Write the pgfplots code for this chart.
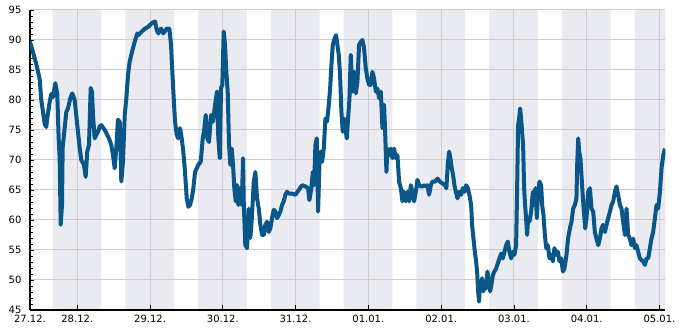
\documentclass[border=0pt]{standalone}
\usepackage{fontspec}
\setmainfont{DejaVu Sans}
\usepackage{pgfplots}
\pgfplotsset{compat=1.18}
\definecolor{dataline}{RGB}{10,86,136}
\definecolor{band}{RGB}{234,235,241}
\definecolor{gridc}{RGB}{204,204,208}
\begin{document}
\begin{tikzpicture}
\begin{axis}[
  set layers,
  scale only axis, width=635.3pt, height=300pt,
  xmin=0.35, xmax=9.08, ymin=45, ymax=95,
  axis x line*=bottom, axis y line*=left,
  axis line style={black, line width=1.2pt, -},
  ytick={45,50,...,95}, minor y tick num=4,
  xtick={0.35,1,2,3,4,5,6,7,8,9},
  xticklabels={27.12.,28.12.,29.12.,30.12.,31.12.,01.01.,02.01.,03.01.,04.01.,05.01.},
  tick align=inside,
  major tick length=4.5pt, minor tick length=3pt,
  tick style={black, line width=0.8pt},
  grid=major, major grid style={gridc, line width=1pt},
  ticklabel style={font=\fontsize{10}{12}\selectfont},
  /pgf/number format/assume math mode=true,
  yticklabel style={xshift=-5pt},
  xticklabel style={yshift=-1.2pt},
]
\addplot[on layer=axis background, fill=band, draw=none] coordinates {
(0.66,45)(0.66,95)(1.33,95)(1.33,45)
(1.66,45)(1.66,95)(2.33,95)(2.33,45)
(2.66,45)(2.66,95)(3.33,95)(3.33,45)
(3.66,45)(3.66,95)(4.33,95)(4.33,45)
(4.66,45)(4.66,95)(5.33,95)(5.33,45)
(5.66,45)(5.66,95)(6.33,95)(6.33,45)
(6.66,45)(6.66,95)(7.33,95)(7.33,45)
(7.66,45)(7.66,95)(8.33,95)(8.33,45)
(8.66,45)(8.66,95)(9.08,95)(9.08,45)
};
\addplot[dataline, line width=4pt, line join=round] table {
x y
0.350 89.7
0.391 88.0
0.436 86.0
0.483 83.5
0.505 80.0
0.529 78.0
0.552 76.0
0.574 75.5
0.588 77.0
0.621 79.7
0.643 81.0
0.666 80.5
0.698 82.8
0.725 81.0
0.744 73.6
0.758 70.3
0.772 59.2
0.790 62.5
0.799 72.0
0.817 74.2
0.849 78.0
0.872 78.6
0.904 80.3
0.931 81.1
0.964 80.0
1.000 75.8
1.033 72.0
1.055 70.0
1.092 69.2
1.115 67.2
1.137 71.4
1.161 72.5
1.184 82.0
1.202 81.4
1.216 77.5
1.239 73.6
1.261 74.2
1.285 74.7
1.308 75.6
1.330 75.8
1.377 75.0
1.412 74.2
1.445 73.3
1.467 72.5
1.491 70.8
1.514 68.6
1.536 72.0
1.559 76.7
1.583 76.4
1.605 66.4
1.628 69.7
1.652 77.5
1.674 80.3
1.697 84.2
1.720 86.4
1.752 88.0
1.789 89.7
1.825 91.1
1.839 90.8
1.885 91.4
1.931 91.9
1.976 92.2
2.023 92.8
2.068 93.1
2.091 91.7
2.113 91.1
2.151 91.9
2.182 91.1
2.229 91.9
2.265 91.9
2.288 89.2
2.306 84.7
2.325 80.3
2.343 76.4
2.366 74.2
2.388 73.6
2.412 75.3
2.435 73.6
2.457 71.4
2.480 68.0
2.504 63.6
2.526 62.2
2.549 62.5
2.573 63.6
2.595 65.3
2.618 68.0
2.641 68.6
2.663 69.2
2.696 69.7
2.724 73.6
2.741 74.7
2.765 77.5
2.787 73.6
2.810 73.0
2.838 77.5
2.865 76.4
2.893 79.2
2.920 81.4
2.938 73.6
2.958 70.3
2.975 82.0
2.993 82.5
3.012 91.4
3.030 89.2
3.048 84.7
3.067 81.4
3.085 72.5
3.103 69.2
3.122 71.9
3.140 69.2
3.158 65.3
3.177 63.1
3.195 65.8
3.213 62.5
3.237 65.3
3.260 62.5
3.278 70.3
3.288 62.5
3.309 55.8
3.333 55.3
3.356 61.9
3.378 57.0
3.401 60.8
3.425 66.4
3.447 68.0
3.470 63.6
3.494 61.9
3.516 59.2
3.539 57.5
3.563 57.5
3.584 59.2
3.608 59.7
3.631 58.0
3.653 58.6
3.676 60.3
3.700 61.7
3.722 61.4
3.745 60.3
3.768 60.8
3.790 61.4
3.814 62.5
3.837 63.1
3.859 64.2
3.882 64.7
3.906 64.4
3.951 64.4
3.997 64.2
4.043 65.0
4.089 65.8
4.134 65.6
4.171 65.3
4.189 63.3
4.217 65.3
4.236 68.0
4.254 65.8
4.272 72.5
4.291 73.6
4.309 61.4
4.327 69.2
4.346 71.4
4.364 69.7
4.387 71.9
4.409 76.9
4.432 76.4
4.456 79.2
4.474 81.9
4.492 85.8
4.511 89.2
4.538 90.3
4.556 90.8
4.574 89.2
4.593 87.5
4.611 84.2
4.629 78.1
4.648 74.7
4.666 76.9
4.684 75.3
4.703 73.6
4.721 76.9
4.739 80.0
4.758 87.5
4.780 81.4
4.803 84.7
4.827 81.1
4.849 83.0
4.872 89.2
4.896 89.7
4.918 90.0
4.941 88.6
4.964 85.3
4.986 83.6
5.010 82.5
5.033 82.5
5.055 84.7
5.078 83.6
5.102 81.4
5.124 81.9
5.147 80.3
5.171 81.4
5.193 75.3
5.216 79.2
5.230 74.7
5.248 68.0
5.261 71.9
5.284 70.8
5.308 71.9
5.330 70.3
5.353 71.9
5.377 70.3
5.399 70.8
5.422 66.4
5.446 65.3
5.468 63.1
5.491 64.7
5.515 63.1
5.537 64.7
5.560 63.1
5.583 65.8
5.605 64.7
5.628 63.1
5.652 64.7
5.674 66.7
5.697 65.8
5.721 65.6
5.743 65.6
5.766 65.8
5.789 65.6
5.811 65.8
5.834 64.2
5.858 65.8
5.880 66.4
5.917 66.4
5.949 66.9
5.982 66.4
6.017 66.1
6.054 65.8
6.072 65.3
6.091 69.2
6.109 71.4
6.127 70.3
6.146 68.6
6.164 67.5
6.182 65.8
6.202 64.7
6.224 63.6
6.247 64.7
6.274 64.2
6.298 65.3
6.320 64.7
6.343 65.8
6.366 65.3
6.388 64.2
6.412 62.5
6.425 59.2
6.443 57.0
6.463 54.7
6.480 53.1
6.494 51.4
6.508 48.1
6.521 46.4
6.535 49.7
6.549 48.6
6.563 50.3
6.581 48.1
6.600 49.7
6.618 48.6
6.636 51.4
6.655 49.7
6.673 48.1
6.691 49.2
6.710 50.8
6.731 51.4
6.755 51.9
6.779 52.8
6.801 53.6
6.824 54.4
6.847 53.6
6.870 54.7
6.893 55.8
6.916 56.4
6.938 54.7
6.962 53.6
6.985 54.7
7.007 54.2
7.030 55.8
7.044 65.3
7.057 75.8
7.071 76.9
7.085 78.6
7.099 76.9
7.112 74.7
7.126 72.5
7.140 65.3
7.153 62.5
7.167 60.3
7.181 57.5
7.195 60.3
7.213 59.7
7.237 61.4
7.260 64.7
7.278 62.5
7.296 65.3
7.315 60.3
7.333 64.7
7.351 66.4
7.374 65.8
7.388 62.5
7.406 60.8
7.425 57.5
7.443 55.3
7.466 55.8
7.488 53.6
7.512 54.2
7.535 53.1
7.557 55.3
7.580 54.2
7.604 54.7
7.626 53.1
7.649 53.6
7.673 51.4
7.694 51.9
7.722 54.2
7.745 57.0
7.769 58.6
7.791 59.7
7.814 61.9
7.837 62.5
7.859 63.6
7.869 69.2
7.883 73.6
7.896 71.4
7.914 70.3
7.928 67.5
7.942 64.7
7.961 61.4
7.979 58.6
7.997 60.3
8.020 64.7
8.044 65.3
8.066 61.9
8.089 61.4
8.112 58.0
8.134 56.9
8.158 55.8
8.181 56.9
8.203 58.6
8.226 59.2
8.250 58.0
8.272 59.2
8.295 60.3
8.319 61.4
8.341 62.5
8.364 63.1
8.387 64.7
8.409 65.6
8.432 64.2
8.456 62.5
8.478 61.9
8.501 59.7
8.525 57.5
8.547 61.9
8.570 57.5
8.593 56.9
8.615 55.8
8.638 56.9
8.662 55.3
8.684 55.8
8.707 54.7
8.731 53.6
8.753 53.3
8.776 53.1
8.800 52.5
8.822 53.6
8.845 53.6
8.868 55.3
8.890 56.9
8.913 58.0
8.937 60.3
8.959 62.5
8.982 61.9
9.006 64.7
9.028 68.6
9.052 70.8
9.075 71.9
};
\coordinate (bl) at (rel axis cs:-0.0472,-0.0667);
\coordinate (tr) at (rel axis cs:1.031,1.0333);
\end{axis}
\pgfresetboundingbox
\path (bl) rectangle (tr);
\end{tikzpicture}
\end{document}
